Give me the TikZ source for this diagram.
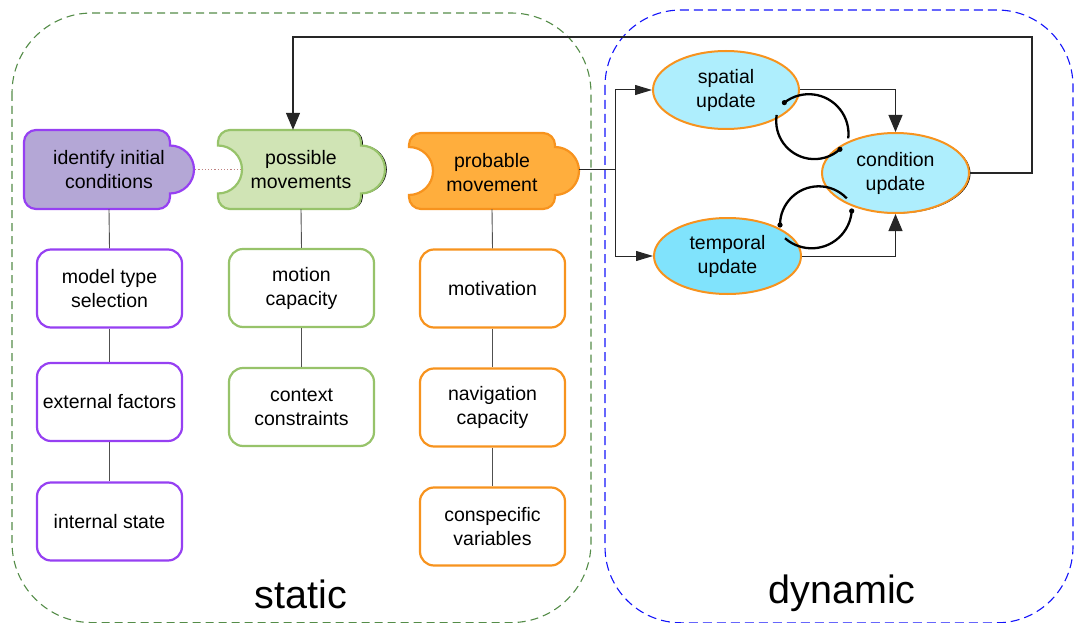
\documentclass[tikz,border=0pt]{standalone}
\usepackage{fontspec}
\setmainfont{Liberation Sans}
\usetikzlibrary{arrows.meta,calc,shapes.geometric}
\definecolor{staticgreen}{RGB}{84,140,72}
\definecolor{dynblue}{RGB}{20,20,250}
\definecolor{purpstroke}{RGB}{150,64,242}
\definecolor{purpfill}{RGB}{180,167,214}
\definecolor{grnstroke}{RGB}{151,195,106}
\definecolor{grnfill}{RGB}{208,228,181}
\definecolor{orstroke}{RGB}{247,147,30}
\definecolor{orfill}{RGB}{255,174,61}
\definecolor{cyanA}{RGB}{174,238,253}
\definecolor{cyanB}{RGB}{128,227,252}
\definecolor{dotpink}{RGB}{190,130,130}
\definecolor{linegray}{RGB}{80,80,80}
\newcommand\pzbody[4]{({#1},{(#2+#4)/2-24}) -- ({#1},{#2+12}) arc[start angle=180,end angle=90,radius=12pt] -- ({#3-12},{#2}) arc[start angle=90,end angle=0,radius=12pt] -- ({#3},{(#2+#4)/2-24}) arc[start angle=90,end angle=-90,radius=24pt] -- ({#3},{#4-12}) arc[start angle=0,end angle=-90,radius=12pt] -- ({#1+12},{#4}) arc[start angle=270,end angle=180,radius=12pt] -- ({#1},{(#2+#4)/2+24})}
\tikzset{
  nodefont/.style={font=\fontsize{19.5}{24}\selectfont},
  txt/.style={nodefont, align=center, inner sep=0pt},
  colbox/.style={nodefont, align=center, draw, fill=white, line width=2.2pt, rounded corners=14pt, minimum width=145pt, minimum height=78pt, inner sep=0pt},
  pbox/.style={colbox, draw=purpstroke},
  gbox/.style={colbox, draw=grnstroke},
  obox/.style={colbox, draw=orstroke},
  upd/.style={nodefont, align=center, ellipse, draw=orstroke, line width=2pt, inner sep=0pt},
  colline/.style={draw=linegray, line width=0.9pt},
  conn/.style={draw=black!85, line width=1pt},
  tipv/.style={-{Triangle[length=17pt,width=14pt]}},
  tiph/.style={-{Triangle[length=17pt,width=10pt]}},
  looparc/.style={draw=black, line width=2.3pt},
  bigfont/.style={font=\fontsize{39.5}{45}\selectfont, inner sep=0pt, anchor=base}
}
\begin{document}
\begin{tikzpicture}[x=1pt,y=-1pt]
\useasboundingbox (0,0) rectangle (1074,623);
% containers
\draw[staticgreen, line width=1.1pt, dash pattern=on 8pt off 5pt, rounded corners=80pt] (12,13) rectangle (591,622.6);
\draw[dynblue, line width=1.1pt, dash pattern=on 9pt off 5pt, rounded corners=76pt] (605,10) rectangle (1073,622.8);
% puzzle shapes
\path[draw=purpstroke, fill=purpfill, line width=2.2pt] \pzbody{24}{130}{170}{209} -- cycle;
\path[fill=black, xshift=1.8pt] \pzbody{218}{130}{361}{209} arc[start angle=-90,end angle=90,radius=24pt] -- cycle;
\path[draw=grnstroke, fill=grnfill, line width=2.2pt] \pzbody{218}{130}{361}{209} arc[start angle=-90,end angle=90,radius=24pt] -- cycle;
\path[draw=orstroke, fill=orfill, line width=2.2pt] \pzbody{409}{133}{555}{209} arc[start angle=-90,end angle=90,radius=24pt] -- cycle;
% texts of puzzle shapes
\node[txt, minimum width=172pt, minimum height=79pt] (idc) at (109,169.5) {identify initial\\conditions};
\node[txt, minimum width=118pt, minimum height=79pt] (pm) at (301,169.5) {possible\\movements};
\node[txt, minimum width=174pt, minimum height=73pt] (prob) at (492,172.5) {probable\\movement};
\draw[dotpink, line width=1.1pt, dash pattern=on 1.2pt off 2pt] (idc.east) -- (pm.west);
% columns
\node[pbox] (mts) at (109.5,288.5) {model type\\selection};
\node[pbox] (ext) at (109.5,402) {external factors};
\node[pbox] (ins) at (109.5,521.5) {internal state};
\node[gbox] (mc) at (301.5,288) {motion\\capacity};
\node[gbox] (cc) at (301.5,407) {context\\constraints};
\node[obox] (mot) at (492.5,288.5) {motivation};
\node[obox] (nav) at (492.5,407.5) {navigation\\capacity};
\node[obox] (con) at (492.5,526.5) {conspecific\\variables};
\draw[colline] (idc.south) -- (mts.north);
\draw[colline] (mts.south) -- (ext.north);
\draw[colline] (ext.south) -- (ins.north);
\draw[colline] (pm.south) -- (mc.north);
\draw[colline] (mc.south) -- (cc.north);
\draw[colline] (prob.south) -- (mot.north);
\draw[colline] (mot.south) -- (nav.north);
\draw[colline] (nav.south) -- (con.north);
% update ellipses
\node[ellipse, fill=black, minimum width=147pt, minimum height=80pt, inner sep=0pt] (cushadow) at (897,173.5) {};
\node[upd, fill=cyanA, minimum width=146pt, minimum height=78pt] (sp) at (726,90) {spatial\\update};
\node[upd, fill=cyanA, minimum width=147pt, minimum height=80pt] (cu) at (895.5,173) {condition\\update};
\node[upd, fill=cyanB, minimum width=147pt, minimum height=76pt] (tu) at (727.5,256) {temporal\\update};
% connectors
\coordinate (jn) at (615,170);
\draw[conn] (prob.east |- jn) -- (jn);
\draw[conn, tiph] (jn) |- (sp.west);
\draw[conn, tiph] (jn) |- (tu.west);
\draw[conn, tipv] (sp.east) -| (cu.north);
\draw[conn, tipv] (tu.east) -| (cu.south);
\coordinate (fbR) at (1032,37);
\coordinate (fbL) at (293,37);
\draw[conn, line width=1.3pt, tipv] (cu.east) -| (fbR) -- (fbL) -- (fbL |- pm.north);
% loops
\coordinate (lc1) at (808.8,133.9);
\coordinate (lc2) at (814.4,120.9);
\coordinate (lc3) at (818.7,225);
\coordinate (lc4) at (811.6,208.1);
\draw[looparc] ($(lc1)+(128:39.7pt)$) arc[start angle=128,end angle=-6.4,radius=39.7pt];
\fill ($(lc1)+(128:39.7pt)$) circle[radius=2.6pt];
\draw[looparc] ($(lc2)+(171:38.2pt)$) arc[start angle=171,end angle=312,radius=38.2pt];
\fill ($(lc2)+(312:38.2pt)$) circle[radius=2.6pt];
\draw[looparc] ($(lc3)+(180:38.7pt)$) arc[start angle=180,end angle=43.6,radius=38.7pt];
\fill ($(lc3)+(180:38.7pt)$) circle[radius=2.6pt];
\draw[looparc] ($(lc4)+(228.6:40.2pt)$) arc[start angle=228.6,end angle=355.9,radius=40.2pt];
\fill ($(lc4)+(355.9:40.2pt)$) circle[radius=2.6pt];
% big labels
\node[bigfont] (st) at (301,608) {static};
\node[bigfont] (dy) at (842,603) {dynamic};
\end{tikzpicture}
\end{document}
